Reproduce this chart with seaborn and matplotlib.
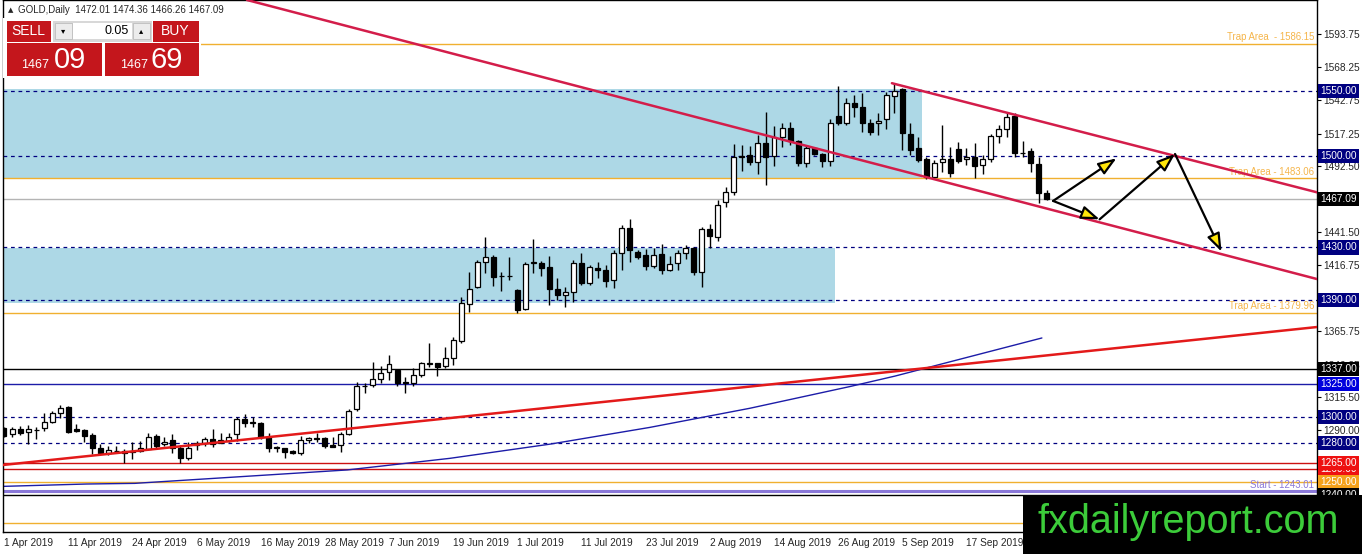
import numpy as np
import seaborn as sns
import matplotlib
matplotlib.use('Agg')
import matplotlib.pyplot as plt
from matplotlib.patches import Rectangle

# daily candles, GOLD
opens = [1291.3, 1287.0, 1290.6, 1288.8, 1290.0, 1291.3, 1296.5, 1302.8, 1307.4, 1290.5,
         1290.0, 1286.2, 1276.0, 1272.7, 1274.2, 1274.0, 1273.4, 1274.2, 1275.2, 1285.5,
         1279.0, 1282.4, 1276.0, 1268.8, 1278.5, 1279.8, 1282.9, 1280.3, 1281.9, 1287.0,
         1298.2, 1295.5, 1295.2, 1285.0, 1276.5, 1276.0, 1274.2, 1272.2, 1282.4, 1283.6,
         1283.6, 1278.3, 1278.5, 1287.0, 1305.9, 1323.6, 1324.5, 1328.9, 1334.8, 1336.0,
         1327.1, 1325.8, 1332.2, 1341.0, 1341.2, 1339.1, 1345.0, 1358.5, 1386.6, 1399.4,
         1419.1, 1422.4, 1408.0, 1408.2, 1397.4, 1382.6, 1418.3, 1418.3, 1415.3, 1397.9,
         1393.6, 1396.1, 1417.8, 1402.5, 1414.0, 1412.7, 1405.0, 1425.5, 1444.7, 1426.3,
         1424.2, 1415.8, 1425.0, 1412.7, 1418.0, 1425.5, 1429.3, 1411.4, 1443.9, 1438.0,
         1465.1, 1472.8, 1499.6, 1500.9, 1495.8, 1509.8, 1500.1, 1514.9, 1521.8, 1511.6,
         1494.5, 1506.0, 1501.7, 1496.5, 1530.8, 1525.7, 1541.0, 1538.0, 1525.7, 1525.2,
         1528.2, 1546.1, 1551.2, 1517.0, 1506.0, 1497.6, 1484.3, 1495.8, 1497.6, 1505.2,
         1497.6, 1499.6, 1493.2, 1497.6, 1515.5, 1520.6, 1530.8, 1502.7, 1504.2, 1494.0,
         1472.01]
highs = [1292.6, 1292.6, 1293.0, 1293.9, 1292.6, 1302.8, 1304.9, 1309.2, 1308.5, 1294.4,
         1291.0, 1287.5, 1279.3, 1277.8, 1277.8, 1275.2, 1281.1, 1281.6, 1287.5, 1287.0,
         1284.9, 1286.7, 1278.5, 1281.1, 1281.9, 1284.9, 1290.6, 1288.0, 1288.0, 1300.3,
         1302.1, 1299.8, 1296.5, 1287.5, 1277.8, 1276.5, 1274.7, 1285.5, 1284.4, 1287.5,
         1284.9, 1284.9, 1288.8, 1305.9, 1327.0, 1325.8, 1342.4, 1339.1, 1347.5, 1336.6,
         1330.9, 1337.3, 1342.4, 1356.5, 1341.7, 1353.4, 1361.1, 1392.3, 1411.4, 1420.4,
         1438.3, 1424.2, 1411.4, 1422.9, 1398.5, 1419.1, 1436.2, 1419.9, 1423.5, 1406.3,
         1399.4, 1420.4, 1426.0, 1416.6, 1419.1, 1416.6, 1428.1, 1447.2, 1451.6, 1428.1,
         1428.6, 1429.3, 1432.7, 1423.5, 1428.1, 1431.9, 1430.6, 1445.4, 1448.0, 1466.4,
         1476.1, 1509.3, 1508.6, 1507.8, 1516.2, 1533.6, 1523.1, 1525.7, 1526.4, 1512.4,
         1507.8, 1507.3, 1502.2, 1528.2, 1553.8, 1544.3, 1546.9, 1548.7, 1528.2, 1532.8,
         1549.5, 1555.8, 1552.0, 1525.2, 1514.4, 1499.6, 1497.1, 1523.9, 1507.3, 1511.1,
         1506.0, 1510.3, 1500.9, 1517.0, 1523.9, 1532.8, 1532.8, 1511.9, 1506.0, 1499.1,
         1474.36]
lows = [1284.4, 1284.4, 1286.0, 1279.3, 1283.0, 1289.5, 1295.2, 1299.0, 1288.0, 1288.8,
        1281.1, 1271.7, 1272.2, 1270.9, 1272.7, 1265.0, 1267.6, 1273.4, 1274.7, 1276.0,
        1277.8, 1272.2, 1265.0, 1267.0, 1274.7, 1277.8, 1277.3, 1279.8, 1281.1, 1281.9,
        1292.6, 1292.6, 1282.9, 1273.4, 1273.4, 1268.3, 1271.7, 1270.9, 1279.8, 1281.1,
        1276.0, 1276.8, 1273.4, 1286.2, 1304.9, 1318.2, 1323.3, 1325.8, 1328.4, 1323.8,
        1318.2, 1323.8, 1330.9, 1338.6, 1331.4, 1337.3, 1339.9, 1356.5, 1380.8, 1398.7,
        1410.7, 1400.5, 1396.9, 1405.0, 1380.0, 1382.1, 1410.7, 1408.1, 1385.9, 1389.7,
        1384.6, 1388.4, 1401.2, 1401.2, 1406.3, 1399.9, 1398.7, 1412.7, 1419.1, 1420.9,
        1412.7, 1414.0, 1409.7, 1412.2, 1412.7, 1420.9, 1408.9, 1399.4, 1429.3, 1435.2,
        1461.3, 1470.2, 1488.9, 1493.2, 1486.3, 1477.9, 1492.5, 1506.8, 1508.6, 1492.5,
        1491.4, 1500.9, 1491.4, 1492.5, 1523.9, 1523.9, 1530.3, 1518.8, 1516.2, 1516.2,
        1520.6, 1532.8, 1504.7, 1500.9, 1495.8, 1482.2, 1483.0, 1488.1, 1483.8, 1494.5,
        1493.2, 1483.0, 1486.3, 1495.8, 1509.8, 1514.9, 1499.1, 1499.1, 1488.1, 1463.8,
        1466.26]
closes = [1285.5, 1290.6, 1288.0, 1290.5, 1290.3, 1296.5, 1302.8, 1306.7, 1288.8, 1289.3,
          1285.5, 1276.0, 1272.7, 1274.7, 1273.8, 1272.7, 1273.6, 1276.0, 1284.4, 1277.8,
          1281.1, 1276.0, 1268.8, 1276.0, 1279.8, 1282.9, 1279.3, 1282.4, 1284.4, 1298.2,
          1295.2, 1295.7, 1285.0, 1276.0, 1276.6, 1273.4, 1272.7, 1282.4, 1283.6, 1282.9,
          1277.8, 1277.3, 1287.0, 1304.9, 1323.8, 1324.0, 1328.9, 1334.0, 1340.8, 1326.3,
          1325.8, 1332.2, 1341.2, 1341.5, 1338.1, 1345.0, 1359.1, 1387.7, 1397.9, 1419.1,
          1422.4, 1407.6, 1408.3, 1408.0, 1382.1, 1417.3, 1418.4, 1414.0, 1397.9, 1393.6,
          1396.1, 1417.8, 1402.5, 1414.8, 1412.7, 1404.5, 1425.5, 1444.7, 1428.1, 1423.0,
          1415.8, 1424.2, 1412.7, 1417.1, 1426.0, 1429.3, 1411.4, 1443.9, 1438.8, 1462.6,
          1472.8, 1499.6, 1499.8, 1495.8, 1509.8, 1499.6, 1514.9, 1521.8, 1511.6, 1494.5,
          1506.0, 1501.7, 1496.5, 1525.2, 1525.7, 1541.0, 1537.4, 1525.7, 1518.8, 1527.2,
          1546.9, 1550.2, 1517.5, 1504.7, 1497.1, 1483.8, 1495.0, 1497.6, 1486.8, 1496.5,
          1499.6, 1492.5, 1497.6, 1515.5, 1520.6, 1529.8, 1502.2, 1502.4, 1495.0, 1471.5,
          1467.09]

date_labels = ['1 Apr 2019', '11 Apr 2019', '24 Apr 2019', '6 May 2019', '16 May 2019',
               '28 May 2019', '7 Jun 2019', '19 Jun 2019', '1 Jul 2019', '11 Jul 2019',
               '23 Jul 2019', '2 Aug 2019', '14 Aug 2019', '26 Aug 2019', '5 Sep 2019',
               '17 Sep 2019']
bars_per_label = 8

# moving average (bar index, price)
ma_idx = [-0.1, 10.3, 16.3, 42.8, 55.6, 68.1, 80.5, 93.0, 105.5, 111.1, 129.4]
ma_val = [1246.8, 1248.6, 1249.1, 1259.4, 1268.3, 1279.2, 1292.0, 1306.7, 1323.4, 1331.4, 1360.6]

# trend lines (bar index, price) pairs
lower_channel = ([30.3, 163.7], [1619.8, 1405.8])
upper_channel = ([110.7, 163.7], [1556.0, 1472.3])
rising_line = ([-0.125, 163.7], [1263.2, 1369.0])

# zones: (right bar index, low, high)
upper_zone = (114.5, 1482.3, 1551.3)
lower_zone = (103.6, 1387.7, 1429.4)

dashed_levels = [1550, 1500, 1430, 1390, 1300, 1280]
trap_levels = [1586.15, 1483.06, 1379.96]
trap_texts = ['Trap Area  - 1586.15', 'Trap Area - 1483.06', 'Trap Area - 1379.96']
start_level = 1243.01
last_price = 1467.09
solid_levels = {1337: 'black', 1325: '#1c1ca8', 1265: '#cc1111', 1260: '#cc1111',
                1250: '#f0b030', 1240: 'black', 1219: '#f0b030'}
# price boxes on the right axis
box_levels = [1550, 1500, 1467.09, 1430, 1390, 1337, 1325, 1300, 1280, 1260, 1265, 1250, 1240]
box_colors = ['#000080', '#000080', 'black', '#000080', '#000080', 'black', '#0000dd',
              '#000080', '#000080', '#ee1111', '#ee1111', '#f5a21c', 'black']
axis_ticks = [1593.75, 1568.25, 1542.75, 1517.25, 1492.50, 1441.50, 1416.75,
              1365.75, 1340.25, 1315.50, 1290.00]

# projected path
arrow_segments = [((130.8, 1465.7), (138.7, 1498.4)),
                  ((130.8, 1465.7), (136.6, 1451.6)),
                  ((136.6, 1451.6), (146.0, 1501.7)),
                  ((146.0, 1501.7), (151.8, 1426.8))]

sns.set_style('white')
plt.rcParams['font.family'] = ['Liberation Sans', 'DejaVu Sans']

W, H = 1362, 554
fig = plt.figure(figsize=(W / 100, H / 100), dpi=100)
ax = fig.add_axes([3 / W, 22 / H, 1314 / W, 532 / H])

o = np.array(opens); h = np.array(highs); l = np.array(lows); c = np.array(closes)
x = np.arange(len(o))

# zones
ax.fill_between([-1, upper_zone[0]], upper_zone[1], upper_zone[2], color='#add8e6', lw=0, zorder=0.5)
ax.fill_between([-1, lower_zone[0]], lower_zone[1], lower_zone[2], color='#add8e6', lw=0, zorder=0.5)

# levels
for lv in dashed_levels:
    ax.axhline(lv, color='#000080', lw=0.9, ls=(0, (3, 3)), zorder=1)
for lv, txt in zip(trap_levels, trap_texts):
    ax.axhline(lv, color='#f0b030', lw=1, zorder=1)
    ax.annotate(txt, xy=(0.998, lv), xycoords=('axes fraction', 'data'), xytext=(0, 1),
                textcoords='offset points', ha='right', va='bottom', fontsize=6.9, color='#f5b54a')
for lv, col in solid_levels.items():
    ax.axhline(lv, color=col, lw=1, zorder=1)
ax.axhline(start_level, color='#8a78d8', lw=2.2, zorder=1)
ax.annotate('Start - 1243.01', xy=(0.998, start_level), xycoords=('axes fraction', 'data'),
            xytext=(0, 1), textcoords='offset points', ha='right', va='bottom', fontsize=6.9,
            color='#8a78d8')
ax.axhline(last_price, color='#b4b4b4', lw=1, zorder=1)

# moving average
sns.lineplot(x=ma_idx, y=ma_val, color='#1c1ca8', lw=1, ax=ax, zorder=2, estimator=None, sort=False)

# candles
up = c >= o
bottom = np.minimum(o, c)
height = np.maximum(np.abs(c - o), 0.4)
ax.vlines(x, l, h, color='black', lw=1, zorder=3)
ax.bar(x[up], height[up], bottom=bottom[up], width=0.62, color='white', edgecolor='black', lw=0.9, zorder=3.5)
ax.bar(x[~up], height[~up], bottom=bottom[~up], width=0.62, color='black', edgecolor='black', lw=0.9, zorder=3.5)

# trend lines
ax.plot(*lower_channel, color='#d31d4a', lw=1.8, zorder=4)
ax.plot(*upper_channel, color='#d31d4a', lw=1.8, zorder=4)
ax.plot(*rising_line, color='#e31a1a', lw=1.8, zorder=4)

for start, tip in arrow_segments:
    ax.annotate('', xy=tip, xytext=start,
                arrowprops=dict(arrowstyle='-|>,head_length=0.55,head_width=0.2', mutation_scale=20,
                                lw=1.6, ec='black', fc='#ffe60a', shrinkA=0, shrinkB=0), zorder=5)

ax.set_xlim(-0.125, 163.7)
ax.set_ylim(1211.8, 1619.8)

ax.set_xticks([k * bars_per_label for k in range(len(date_labels))])
ax.set_xticklabels(date_labels, ha='left', fontsize=7.3)
ax.yaxis.tick_right()
ax.set_yticks(axis_ticks)
ax.set_yticklabels([f'{t:.2f}' for t in axis_ticks], fontsize=7.3)
ax.tick_params(axis='both', direction='out', length=3, width=0.8, color='black', pad=1.5)
for s in ax.spines.values():
    s.set_color('black')
    s.set_linewidth(1)

for lv, col in zip(box_levels, box_colors):
    ax.annotate(f'{lv:.2f}', xy=(1, lv), xycoords=('axes fraction', 'data'), xytext=(2.5, 0),
                textcoords='offset points', ha='left', va='center', fontsize=7.3, color='white',
                bbox=dict(boxstyle='square,pad=0.2', fc=col, ec='none'), annotation_clip=False)


def px_rect(x0, y0, x1, y1, **kw):
    fig.add_artist(Rectangle((x0 / W, 1 - y1 / H), (x1 - x0) / W, (y1 - y0) / H,
                             transform=fig.transFigure, **kw))


def px_text(xp, yp, s, **kw):
    fig.text(xp / W, 1 - yp / H, s, **kw)


# header + trade panel
px_text(8, 10, '▲', fontsize=5, va='center', family=['DejaVu Sans'])
px_text(18, 10, 'GOLD,Daily  1472.01 1474.36 1466.26 1467.09', fontsize=7, va='center')
px_rect(3, 18, 201, 78, fc='white', ec='none', zorder=8)
red = '#c4161c'
px_rect(6.5, 20.5, 50.5, 41.5, fc=red, ec='none', zorder=9)
px_rect(153, 20.5, 198.5, 41.5, fc=red, ec='none', zorder=9)
px_rect(52.5, 20.5, 151.5, 41.5, fc='#d8d8d8', ec='none', zorder=9)
px_rect(55, 23, 72, 39, fc='#ececec', ec='#bdbdbd', lw=0.6, zorder=9.5)
px_rect(73, 23, 131.5, 39, fc='white', ec='none', zorder=9.5)
px_rect(132.5, 23, 150, 39, fc='#ececec', ec='#bdbdbd', lw=0.6, zorder=9.5)
px_rect(6.5, 42.5, 101.5, 76, fc=red, ec='none', zorder=9)
px_rect(105, 42.5, 198.5, 76, fc=red, ec='none', zorder=9)
px_text(28.5, 31, 'SELL', fontsize=10, color='white', ha='center', va='center', zorder=10)
px_text(175.5, 31, 'BUY', fontsize=10, color='white', ha='center', va='center', zorder=10)
px_text(129, 31, '0.05', fontsize=9, color='black', ha='right', va='center', zorder=10)
px_text(63.5, 31, '▾', fontsize=6, color='black', ha='center', va='center', zorder=10, family=['DejaVu Sans'])
px_text(141, 31, '▴', fontsize=6, color='black', ha='center', va='center', zorder=10, family=['DejaVu Sans'])
px_text(21.5, 68.5, '1467', fontsize=9, color='white', va='baseline', zorder=10)
px_text(54, 68.5, '09', fontsize=21, color='white', va='baseline', zorder=10)
px_text(120.5, 68.5, '1467', fontsize=9, color='white', va='baseline', zorder=10)
px_text(151, 68.5, '69', fontsize=21, color='white', va='baseline', zorder=10)

# watermark
px_rect(1022.5, 495, 1362, 554, fc='black', ec='none', zorder=20)
px_text(1038, 533, 'fxdailyreport.com', fontsize=28.5, color='#3ccc3a', va='baseline', zorder=21)

fig.savefig('out.png', dpi=100)
